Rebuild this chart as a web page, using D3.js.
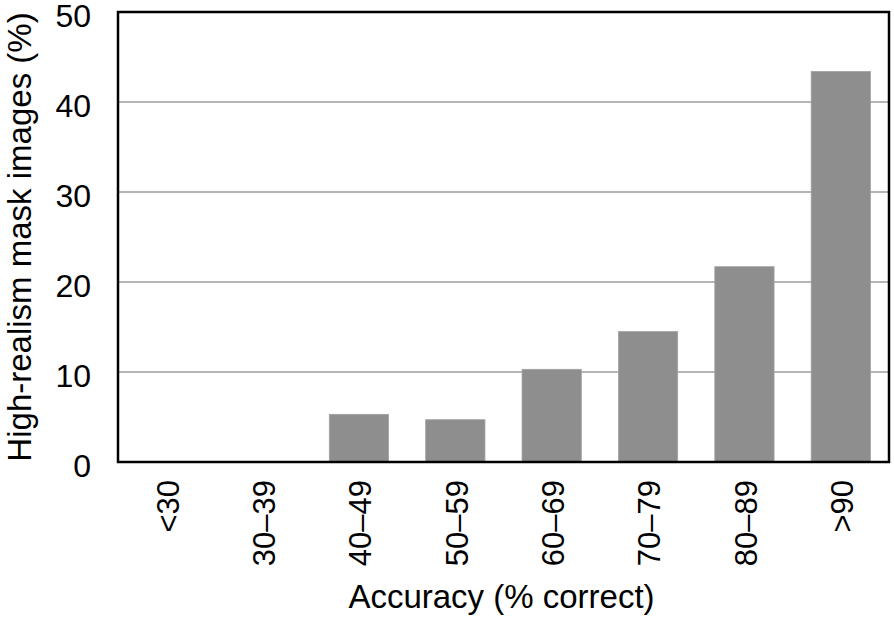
<!DOCTYPE html>
<html>
<head>
<meta charset="utf-8">
<script src="https://cdn.jsdelivr.net/npm/d3@7"></script>
<style>
  body { margin: 0; background: #fff; }
  text { font-family: "Liberation Sans", Arial, sans-serif; fill: #000; }
</style>
</head>
<body>
<div id="chart"></div>
<script>
const categories = ["<30", "30\u201339", "40\u201349", "50\u201359", "60\u201369", "70\u201379", "80\u201389", ">90"];
const values = [0, 0, 5.3, 4.7, 10.3, 14.5, 21.7, 43.4];
const yTicks = [0, 10, 20, 30, 40, 50];

const width = 894;
const height = 620;
const margin = { top: 12, right: 5, bottom: 158, left: 118 };
const innerW = width - margin.left - margin.right;
const innerH = height - margin.top - margin.bottom;

const svg = d3.select("#chart")
    .append("svg")
    .attr("width", width)
    .attr("height", height);

const g = svg.append("g")
    .attr("transform", `translate(${margin.left},${margin.top})`);

const xScale = d3.scaleBand()
    .domain(categories)
    .range([0, innerW])
    .paddingInner(0.385)
    .paddingOuter(0.1925);

const yScale = d3.scaleLinear()
    .domain([0, 50])
    .range([innerH, 0]);

// gridlines
g.selectAll("line.grid")
    .data(yTicks.filter(d => d > 0 && d < 50))
    .enter()
    .append("line")
    .attr("class", "grid")
    .attr("x1", 0)
    .attr("x2", innerW)
    .attr("y1", d => yScale(d))
    .attr("y2", d => yScale(d))
    .attr("stroke", "#b5b5b5")
    .attr("stroke-width", 2);

// bars
g.selectAll("rect.bar")
    .data(categories.map((c, i) => ({ cat: c, val: values[i] })))
    .enter()
    .append("rect")
    .attr("class", "bar")
    .attr("x", d => xScale(d.cat))
    .attr("width", xScale.bandwidth())
    .attr("y", d => yScale(d.val))
    .attr("height", d => innerH - yScale(d.val))
    .attr("fill", "#8e8e8e")
    .attr("stroke", "#a3a3a3")
    .attr("stroke-width", 0.8);

// frame
g.append("rect")
    .attr("x", 0)
    .attr("y", 0)
    .attr("width", innerW)
    .attr("height", innerH)
    .attr("fill", "none")
    .attr("stroke", "#000")
    .attr("stroke-width", 2.5);

// y axis
const yAxis = g.append("g")
    .call(d3.axisLeft(yScale).tickValues(yTicks).tickSize(0).tickPadding(27));
yAxis.select(".domain").remove();
yAxis.selectAll("text")
    .attr("dy", "0.45em")
    .style("font-size", "32px");

// x axis
const xAxis = g.append("g")
    .attr("transform", `translate(0,${innerH})`)
    .call(d3.axisBottom(xScale).tickSize(0));
xAxis.select(".domain").remove();
xAxis.selectAll("text")
    .attr("transform", "rotate(-90)")
    .attr("text-anchor", "end")
    .attr("x", -18)
    .attr("y", 0)
    .attr("dy", "0.4em")
    .style("font-size", "31px");

// axis titles
g.append("text")
    .attr("x", innerW / 2 - 2)
    .attr("y", innerH + 146)
    .attr("text-anchor", "middle")
    .style("font-size", "33px")
    .text("Accuracy (% correct)");

svg.append("text")
    .attr("transform", "rotate(-90)")
    .attr("x", -237)
    .attr("y", 31)
    .attr("text-anchor", "middle")
    .style("font-size", "33px")
    .text("High-realism mask images (%)");
</script>
</body>
</html>
